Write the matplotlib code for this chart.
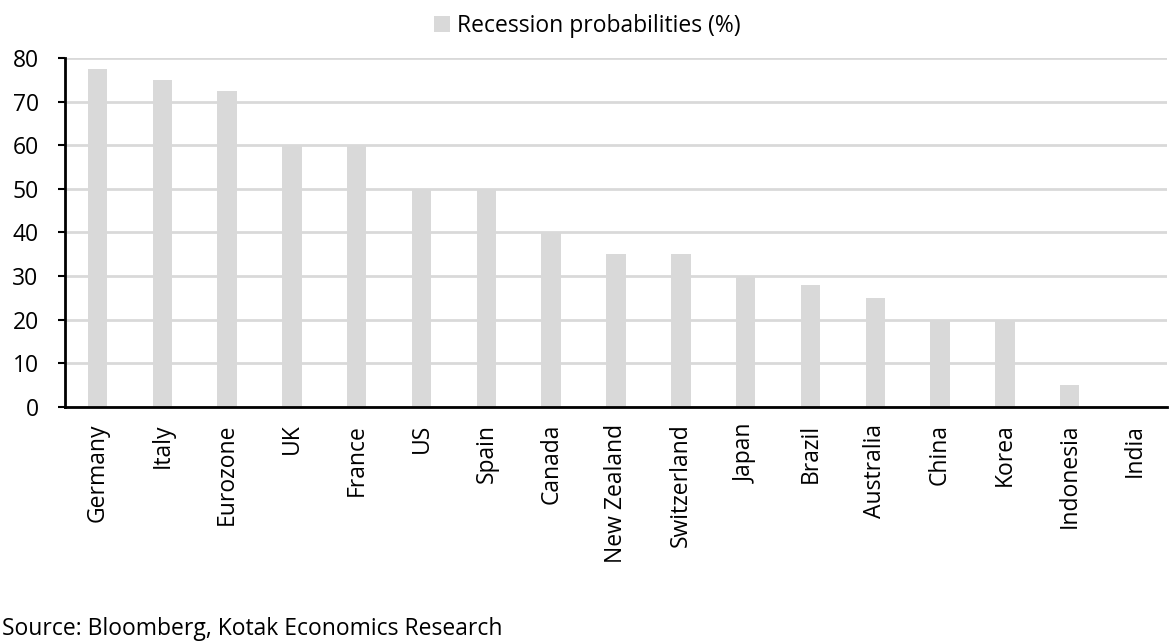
import matplotlib.pyplot as plt
import numpy as np

plt.rcParams['font.family'] = ['Open Sans', 'DejaVu Sans']

countries = ['Germany', 'Italy', 'Eurozone', 'UK', 'France', 'US', 'Spain', 'Canada',
             'New Zealand', 'Switzerland', 'Japan', 'Brazil', 'Australia', 'China',
             'Korea', 'Indonesia', 'India']
probs = [77.5, 75, 72.5, 60, 60, 50, 50, 40, 35, 35, 30, 28, 25, 20, 20, 5, 0]
yticks = [0, 10, 20, 30, 40, 50, 60, 70, 80]

fig = plt.figure(figsize=(11.74, 6.44), dpi=100)
ax = fig.add_axes([0.0554, 0.368, 0.9386, 0.542])

x = np.arange(len(countries))
ax.bar(x, probs, width=0.3, color='#d9d9d9', label='Recession probabilities (%)', zorder=2)

ax.set_xlim(-0.5, len(countries) - 0.5)
ax.set_ylim(0, 80)
ax.set_yticks(yticks)
ax.yaxis.grid(True, color='#d9d9d9', linewidth=2, zorder=0)
ax.set_axisbelow(True)

ax.set_xticks(x)
ax.set_xticklabels(countries, rotation=90, fontsize=16.5)
ax.tick_params(axis='x', length=0, pad=12)
ax.tick_params(axis='y', labelsize=16.5, length=5, width=1.5, direction='out', pad=14)

for s in ['top', 'right']:
    ax.spines[s].set_visible(False)
ax.spines['left'].set_linewidth(2)
ax.spines['bottom'].set_linewidth(2)

fig.legend(loc='upper center', bbox_to_anchor=(0.5, 1.01), frameon=False, fontsize=16.5,
           handlelength=0.7, handleheight=0.7, handletextpad=0.3)

fig.text(0.002, 0.005, 'Source: Bloomberg, Kotak Economics Research', fontsize=16.5, ha='left', va='bottom')

fig.savefig('out.png', dpi=100)
